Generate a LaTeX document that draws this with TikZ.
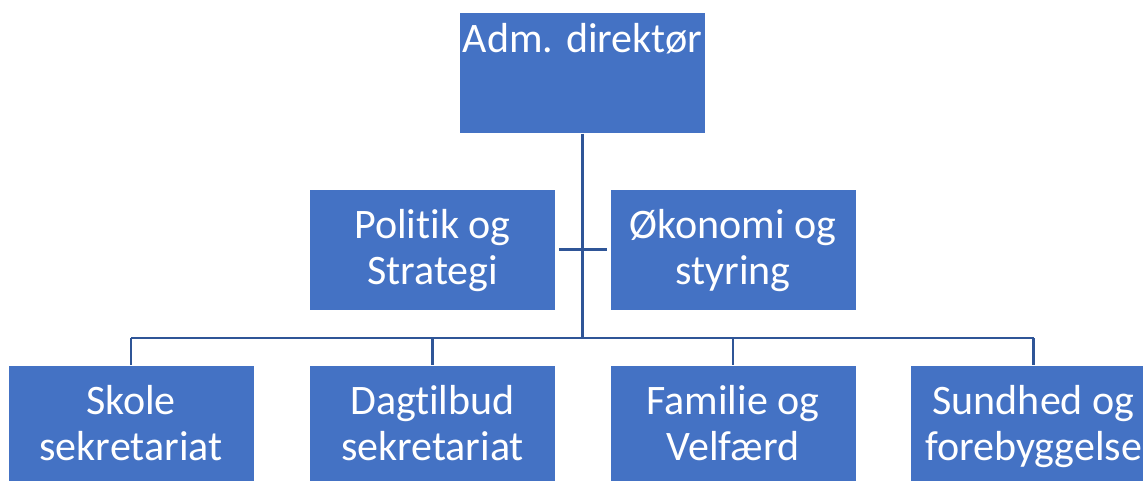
\documentclass[tikz,border=0pt]{standalone}
\usepackage{fontspec}
\setmainfont{Carlito}[Ligatures=NoCommon]
\definecolor{boxblue}{HTML}{4472C4}
\definecolor{linkblue}{HTML}{2F5597}
\begin{document}
\begin{tikzpicture}[x=1pt,y=-1pt,
  orgbox/.style={rectangle, fill=boxblue, draw=white, line width=0.8pt,
    minimum width=246pt, minimum height=121pt, inner sep=0pt,
    text height=95pt, text depth=26pt,
    text=white, align=center, font=\fontsize{42}{46}\selectfont},
  link/.style={draw=linkblue, line width=2.6pt}]
\path[use as bounding box, clip] (0,0) rectangle (1143,481);
\fill[white] (0,0) rectangle (1143,481);
\node[orgbox, text height=40.7pt, text depth=80.3pt] (top) at (582.5,72.8) {Adm. direktør};
\node[orgbox] (pol) at (432.5,249.5) {Politik og\\Strategi};
\node[orgbox] (oko) at (733,249.5) {Økonomi og\\styring};
\node[orgbox] (skole) at (131,425.5) {Skole\\sekretariat};
\node[orgbox] (dag) at (432.5,425.5) {Dagtilbud\\sekretariat};
\node[orgbox] (fam) at (733,425.5) {Familie og\\Velfærd};
\node[orgbox] (sund) at (1033.5,425.5) {Sundhed og\\forebyggelse};
\coordinate (bus) at (582.5,338);
\draw[link] (top.south) -- (bus);
\draw[link, shorten <=3pt, shorten >=3pt] (pol.east) -- (oko.west);
\draw[link] (skole.north |- bus) -- (sund.north |- bus);
\draw[link] (skole.north |- bus) -- (skole.north);
\draw[link] (dag.north |- bus) -- (dag.north);
\draw[link] (fam.north |- bus) -- (fam.north);
\draw[link] (sund.north |- bus) -- (sund.north);
\end{tikzpicture}
\end{document}
